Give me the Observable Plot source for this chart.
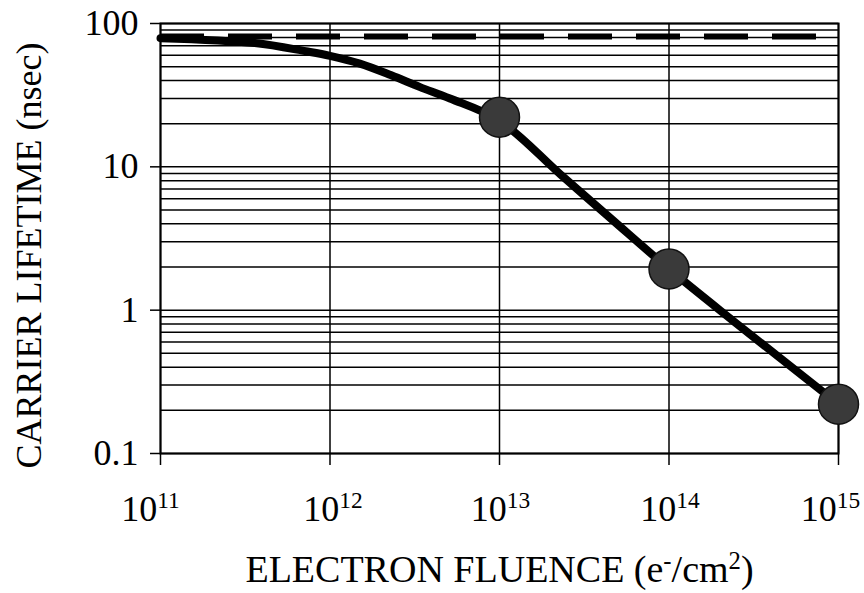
<!DOCTYPE html>
<html><head><meta charset="utf-8">
<script src="https://cdn.jsdelivr.net/npm/d3@7"></script>
<script src="https://cdn.jsdelivr.net/npm/@observablehq/plot@0.6"></script>
<style>body{margin:0;background:#fff} svg, svg text{font-family:"Liberation Serif","Times New Roman",serif !important}</style>
</head><body><div id="chart"></div>
<script>
// Fitted lifetime curve
const fluence  = [1e11, 3.6e11, 7.2e11, 1e12, 1.5e12, 2.3e12, 3.4e12, 5.1e12, 1e13, 2.3e13, 4.6e13, 1e14, 2.4e14, 1e15];
const lifetime = [79,   73,     64,     59.5, 52.5,   43.5,   36,     30,     21,   8.8,    4.3,    1.94, 0.84,   0.221];
// Measured points
const measuredFluence  = [1e13, 1e14, 1e15];
const measuredLifetime = [22.2, 1.94, 0.221];
// Pre-irradiation lifetime (dashed)
const initialLifetime = [81];
// Axes
const xTicks = [1e11, 1e12, 1e13, 1e14, 1e15];
const xTickExponents = ["11", "12", "13", "14", "15"];
const yTicks = [0.1, 1, 10, 100];
const yTickLabels = ["0.1", "1", "10", "100"];
const yGrid = [0.1,0.2,0.3,0.4,0.5,0.6,0.7,0.8,0.9,
               1,2,3,4,5,6,7,8,9,
               10,20,30,40,50,60,70,80,90,100];

const curve = fluence.map((f, i) => ({f, t: lifetime[i]}));
const measured = measuredFluence.map((f, i) => ({f, t: measuredLifetime[i]}));

const chart = Plot.plot({
  width: 864, height: 593,
  marginLeft: 160, marginRight: 26, marginTop: 23, marginBottom: 140,
  style: {fontFamily: '"Liberation Serif","Times New Roman",serif', fontSize: "36px", color: "black", background: "white"},
  x: {type: "log", domain: [1e11, 1e15]},
  y: {type: "log", domain: [0.1, 100]},
  marks: [
    Plot.ruleY(yGrid, {stroke: "black", strokeWidth: 1.5}),
    Plot.ruleX(xTicks, {stroke: "black", strokeWidth: 1.5}),
    Plot.frame({stroke: "black", strokeWidth: 2}),
    Plot.ruleY(initialLifetime, {stroke: "black", strokeWidth: 6, strokeDasharray: "44,24"}),
    Plot.line(curve, {x: "f", y: "t", stroke: "black", strokeWidth: 8, curve: "catmull-rom"}),
    Plot.dot(measured, {x: "f", y: "t", r: 20, fill: "#3a3a3a", stroke: "#111", strokeWidth: 1.5}),
    Plot.axisX({ticks: xTicks, tickSize: 12, tickPadding: 30, strokeWidth: 1.5,
      tickFormat: (d) => "10^" + xTickExponents[xTicks.indexOf(d)],
      label: "ELECTRON FLUENCE", labelAnchor: "center", labelArrow: false, labelOffset: 128}),
    Plot.axisY({ticks: yTicks, tickSize: 10, tickPadding: 12, strokeWidth: 1.5,
      tickFormat: (d) => yTickLabels[yTicks.indexOf(d)],
      label: "CARRIER LIFETIME (nsec)", labelAnchor: "center", labelArrow: false, labelOffset: 145})
  ]
});
document.getElementById("chart").appendChild(chart);

function setParts(el, parts) {
  el.textContent = "";
  const sel = d3.select(el);
  let shift = 0;
  for (const [txt, sup] of parts) {
    const ts = sel.append("tspan").text(txt);
    if (sup) { ts.attr("font-size", "0.65em").attr("dy", "-13px"); shift = 13; }
    else if (shift) { ts.attr("dy", shift + "px"); shift = 0; }
  }
}
const tickShift = [-10, 3, 1, 1, -8];
d3.select(chart).selectAll('[aria-label="x-axis tick label"] text').each(function(d, i) {
  const s = this.textContent.split("^");
  setParts(this, [[s[0], false], [s[1], true]]);
  d3.select(this).attr("dx", tickShift[i] ?? 0);
});
d3.select(chart).selectAll('[aria-label="x-axis label"] text').each(function() {
  d3.select(this).style("font-size", "38px");
  setParts(this, [["ELECTRON FLUENCE (e", false], ["-", true], ["/cm", false], ["2", true], [")", false]]);
});
d3.select(chart).selectAll('[aria-label="y-axis label"] text').attr("dx", "-17");
</script></body></html>
